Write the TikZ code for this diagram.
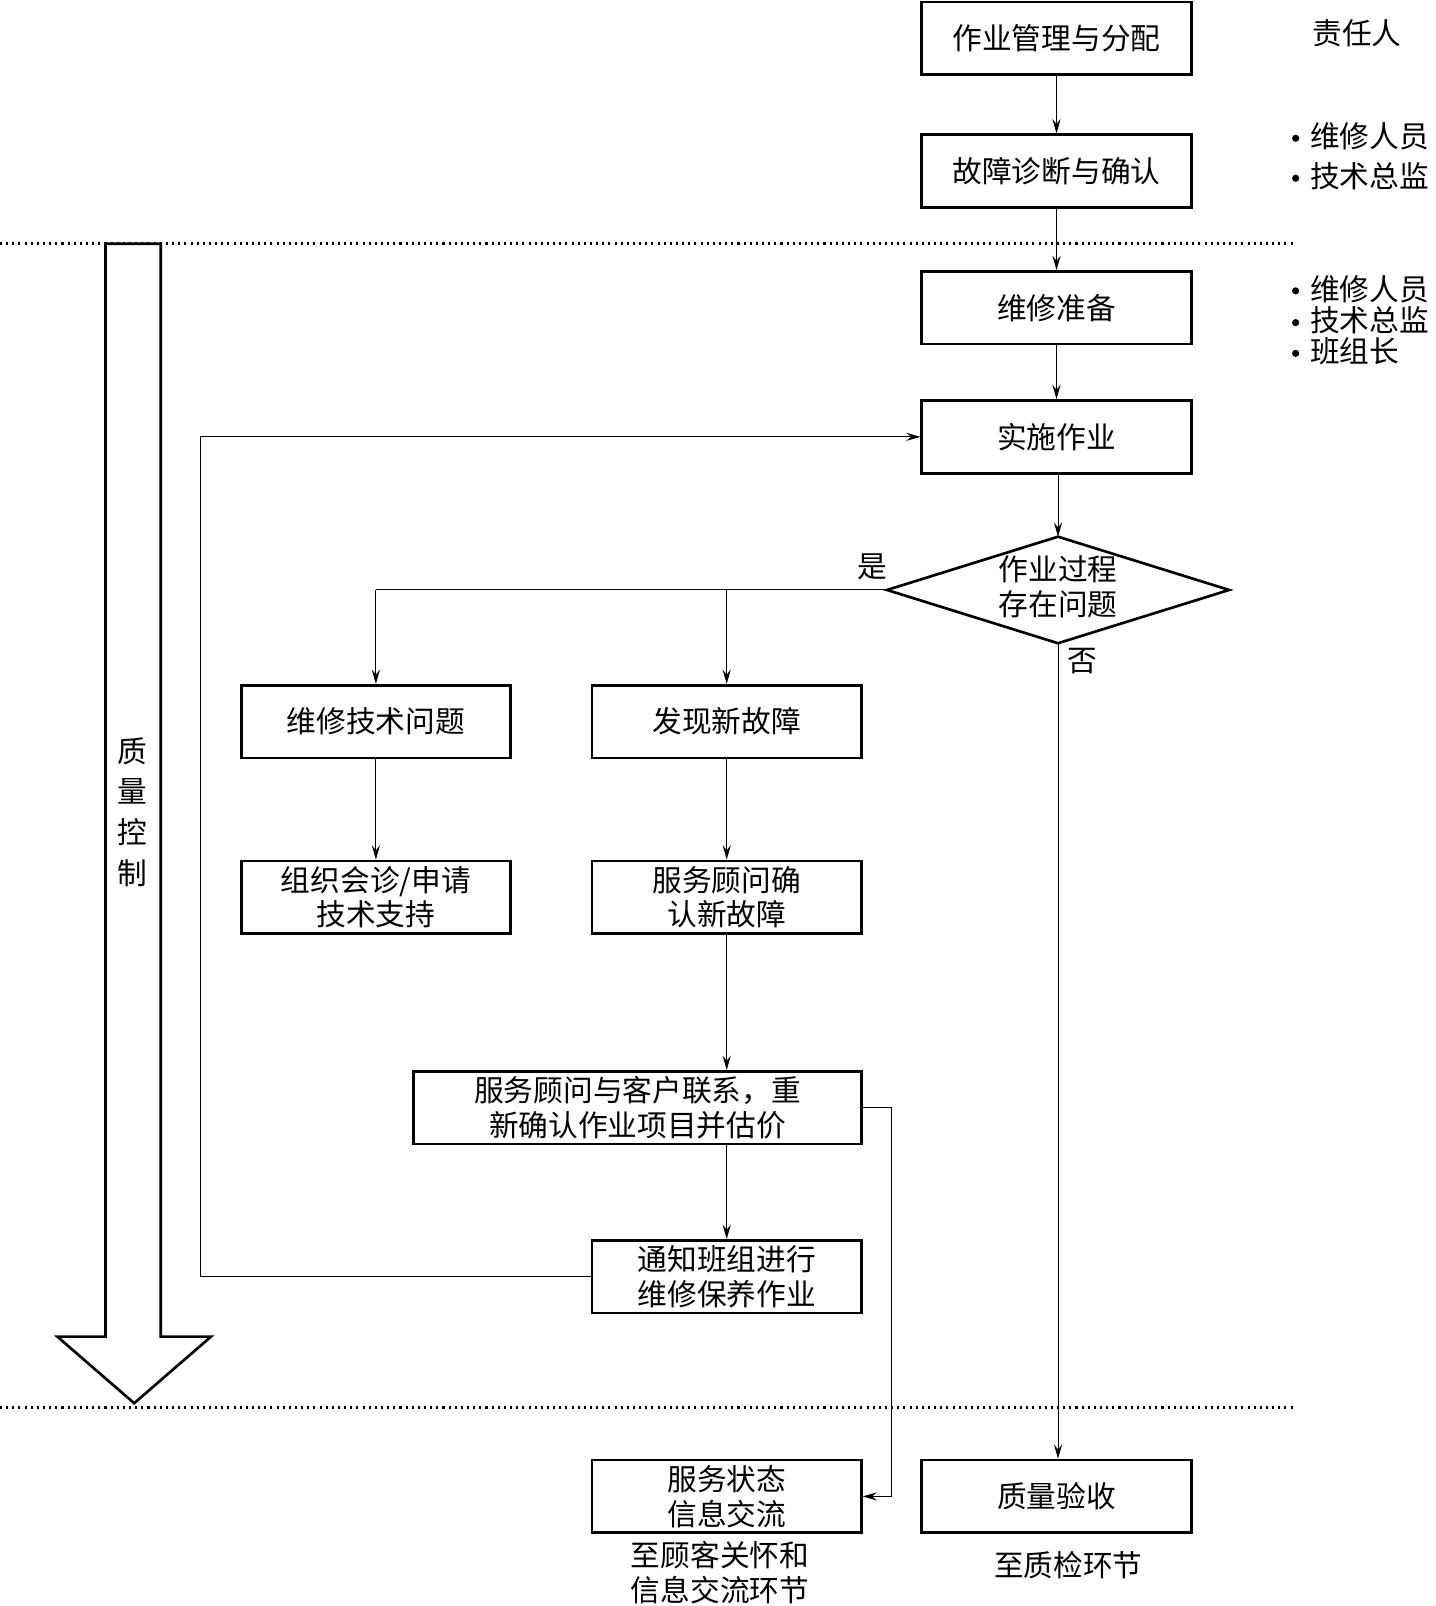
\documentclass[tikz,border=0pt]{standalone}
\usepackage{fontspec}
\setmainfont{Noto Sans CJK SC}
\usetikzlibrary{arrows.meta}
\tikzset{
  box/.style={draw, line width=2.6pt, minimum width=263pt, minimum height=71pt, inner sep=0pt, align=center, font=\fontsize{29}{34}\selectfont},
  widebox/.style={box, minimum width=437pt},
  lbl/.style={inner sep=0pt, align=center, font=\fontsize{29}{34}\selectfont},
  conn/.style={line width=1pt, -{Stealth[length=14pt,width=8pt,inset=5pt]}},
  line/.style={line width=1pt},
  sep/.style={line width=2.5pt, dash pattern=on 2pt off 4pt},
}
\begin{document}
\begin{tikzpicture}[x=1pt,y=-1pt]
\useasboundingbox (0,0) rectangle (1402,1568);
% separators
\coordinate (s1a) at (0,238); \coordinate (s1b) at (1265,238);
\coordinate (s2a) at (0,1374); \coordinate (s2b) at (1265,1374);
\draw[sep] (s1a) -- (s1b);
\draw[sep] (s2a) -- (s2b);
% boxes
\node[box] (A) at (1031.5,37.5) {作业管理与分配};
\node[box] (B) at (1031.5,167) {故障诊断与确认};
\node[box] (C) at (1031.5,300.5) {维修准备};
\node[box] (D) at (1031.5,426.5) {实施作业};
\node[box] (E) at (367,704.5) {维修技术问题};
\node[box] (F) at (709.5,704.5) {发现新故障};
\node[box] (G) at (367,876) {组织会诊/申请\\技术支持};
\node[box] (H) at (709.5,876) {服务顾问确\\认新故障};
\node[widebox] (I) at (622.5,1081.5) {服务顾问与客户联系，重\\新确认作业项目并估价};
\node[box] (J) at (709.5,1246.5) {通知班组进行\\维修保养作业};
\node[box] (K) at (709.5,1461) {服务状态\\信息交流};
\node[box] (L) at (1031.5,1461) {质量验收};
% diamond
\coordinate (dt) at (1033,524);
\coordinate (dr) at (1200,576);
\coordinate (db) at (1033,628);
\coordinate (dl) at (866,576);
\draw[line width=2.6pt, line join=miter] (dt) -- (dr) -- (db) -- (dl) -- cycle;
\node[lbl] (Q) at (1033,573) {作业过程\\存在问题};
\node[lbl] (yes) at (852,553) {是};
\node[lbl] (no) at (1057,645) {否};
% right labels
\node[lbl] (R0) at (1325,32) {责任人};
\foreach \n/\y/\t in {r1/133/维修人员, r2/172/技术总监, r3/282/维修人员, r4/313/技术总监, r5/343/班组长}{
  \fill (1265,\y+2) circle (3.5pt);
  \node[lbl, anchor=west] (\n) at (1279,\y) {\t};
}
% bottom notes
\node[lbl] (n1) at (703,1535) {至顾客关怀和\\信息交流环节};
\node[lbl] (n2) at (1043,1528) {至质检环节};
% main flow
\draw[conn] (A) -- (B);
\draw[conn] (B) -- (C);
\draw[conn] (C) -- (D);
\draw[conn] (D.south -| dt) -- (dt);
\draw[line] (dl) -- (367,576);
\draw[conn] (367,576) -- (E);
\draw[conn] (709.5,576) -- (F);
\draw[conn] (E) -- (G);
\draw[conn] (F) -- (H);
\draw[conn] (H) -- (H |- I.north);
\draw[conn] (J |- I.south) -- (J);
\draw[conn] (J.west) -- ++(-381,0) |- (D.west);
\draw[conn] (I.east) -- ++(28,0) |- (K.east);
\draw[conn] (db) -- (db |- L.north);
% quality control arrow
\draw[line width=2.6pt, line join=miter] (103,238) -- (157,238) -- (157,1305) -- (206,1305) -- (131,1370) -- (56,1305) -- (103,1305) -- cycle;
\node[lbl] (qc) at (129,793) {质\\[6pt]量\\[6pt]控\\[6pt]制};
\end{tikzpicture}
\end{document}
